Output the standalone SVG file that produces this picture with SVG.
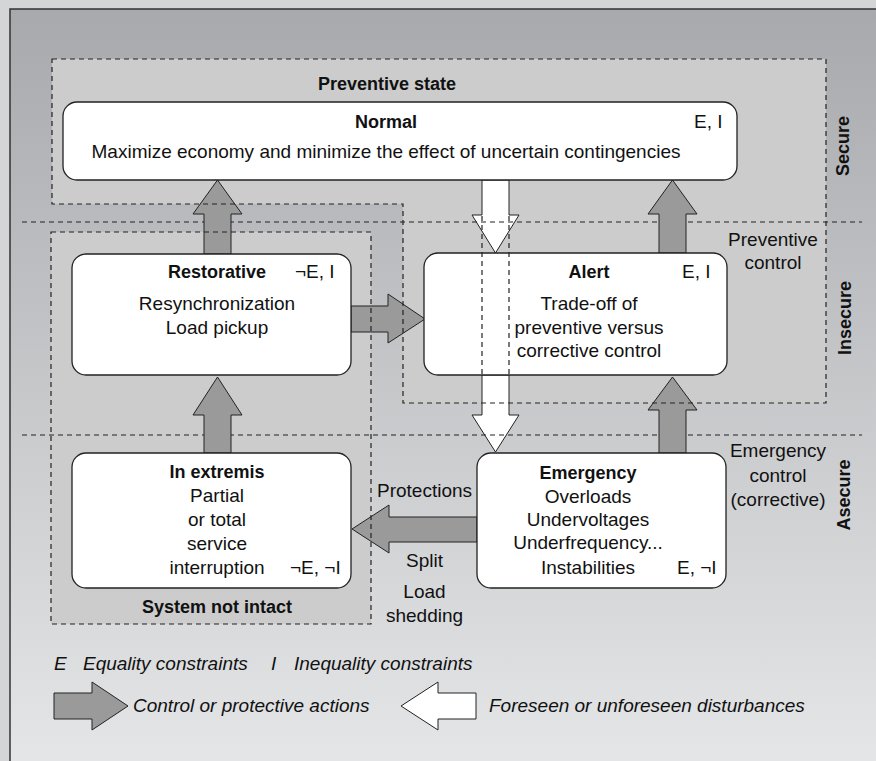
<svg xmlns="http://www.w3.org/2000/svg" width="876" height="761" viewBox="0 0 876 761">
<defs>
<linearGradient id="bg" x1="0" y1="0" x2="0" y2="1">
<stop offset="0" stop-color="#a8a9ac"/>
<stop offset="1" stop-color="#e6e7e9"/>
</linearGradient>
<style>
.t{font-family:"Liberation Sans",Arial,sans-serif;font-size:19px;fill:#111;}
.b{font-weight:bold;font-size:18px;}
.i{font-style:italic;}
.m{text-anchor:middle;}
.box{fill:#fff;stroke:#222;stroke-width:1.3;}
.dash{fill:none;stroke:#222;stroke-width:1.2;stroke-dasharray:5 4;}
.ga{fill:#9a9a9a;stroke:#222;stroke-width:1;}
.wa{fill:#fff;stroke:#222;stroke-width:1;}
.reg{fill:#cccccc;}
</style>
</defs>
<rect x="0" y="0" width="876" height="761" fill="#d4d5d7"/>
<rect x="10" y="9" width="880" height="770" fill="url(#bg)" stroke="#333" stroke-width="1.5"/>

<g id="regions">
<polygon class="reg" points="52,59 826,59 826,403 403,403 403,204 52,204"/>
<rect class="reg" x="51" y="232" width="320" height="392"/>
</g>

<g id="connectors">
<polygon class="wa" points="482,180 509,180 509,215 519,215 495.5,253 472,215 482,215"/>
<polygon class="wa" points="482,375 509,375 509,415 519,415 495.5,452 472,415 482,415"/>
<g id="zone-lines">
<line class="dash" x1="22" y1="222" x2="862" y2="222"/>
<line class="dash" x1="22" y1="435" x2="862" y2="435"/>
</g>
<polygon class="ga" points="204,254 204,214 193,214 217.5,180 242,214 231,214 231,254"/>
<polygon class="ga" points="204,453 204,415 193,415 217.5,377 242,415 231,415 231,453"/>
<polygon class="ga" points="351,306 388,306 388,294 425,319 388,343 388,332 351,332"/>
<polygon class="ga" points="659,253 659,214 648,214 672.5,180 697,214 686,214 686,253"/>
<polygon class="ga" points="659,453 659,410 648,410 672.5,377 697,410 686,410 686,453"/>
<polygon class="ga" points="477,517 389,517 389,505 352,529 389,553 389,542 477,542"/>
</g>

<g id="node-normal">
<rect class="box" x="63" y="102" width="674" height="78" rx="14"/>
<text class="t b m" x="386" y="128">Normal</text>
<text class="t" x="694" y="128">E, I</text>
<text class="t m" x="386" y="158">Maximize economy and minimize the effect of uncertain contingencies</text>
</g>

<g id="node-restorative">
<rect class="box" x="72" y="254" width="279" height="121" rx="14"/>
<text class="t b m" x="217" y="278">Restorative</text>
<text class="t" x="295" y="278">¬E, I</text>
<text class="t m" x="217" y="310">Resynchronization</text>
<text class="t m" x="217" y="334">Load pickup</text>
</g>

<g id="node-alert">
<rect class="box" x="424" y="253" width="303" height="122" rx="14"/>
<text class="t b m" x="589" y="278">Alert</text>
<text class="t" x="682" y="278">E, I</text>
<text class="t m" x="589" y="310">Trade-off of</text>
<text class="t m" x="589" y="334">preventive versus</text>
<text class="t m" x="589" y="357">corrective control</text>
</g>

<g id="node-inextremis">
<rect class="box" x="72" y="453" width="279" height="135" rx="14"/>
<text class="t b m" x="217" y="478">In extremis</text>
<text class="t m" x="217" y="502">Partial</text>
<text class="t m" x="217" y="526">or total</text>
<text class="t m" x="217" y="550">service</text>
<text class="t m" x="217" y="574">interruption</text>
<text class="t" x="290" y="574">¬E, ¬I</text>
</g>

<g id="node-emergency">
<rect class="box" x="477" y="453" width="249" height="135" rx="14"/>
<text class="t b m" x="588" y="479">Emergency</text>
<text class="t m" x="588" y="503">Overloads</text>
<text class="t m" x="588" y="526">Undervoltages</text>
<text class="t m" x="588" y="549">Underfrequency...</text>
<text class="t m" x="588" y="574">Instabilities</text>
<text class="t" x="677" y="574">E, ¬I</text>
</g>

<g id="region-borders">
<polygon class="dash" points="52,59 826,59 826,403 403,403 403,204 52,204"/>
<rect class="dash" x="51" y="232" width="320" height="392"/>
<line class="dash" x1="482" y1="216" x2="482" y2="375"/>
<line class="dash" x1="509" y1="216" x2="509" y2="375"/>
</g>

<g id="labels">
<text class="t b m" x="387" y="90">Preventive state</text>
<text class="t b m" x="217" y="613">System not intact</text>
<text class="t m" x="773" y="246">Preventive</text>
<text class="t m" x="773" y="269">control</text>
<text class="t m" x="778" y="457">Emergency</text>
<text class="t m" x="778" y="482">control</text>
<text class="t m" x="778" y="506">(corrective)</text>
<text class="t m" x="424.5" y="497">Protections</text>
<text class="t m" x="424.5" y="567">Split</text>
<text class="t m" x="424.5" y="598">Load</text>
<text class="t m" x="424.5" y="622">shedding</text>
<text class="t b m" transform="translate(849,146) rotate(-90)">Secure</text>
<text class="t b m" transform="translate(851,318) rotate(-90)">Insecure</text>
<text class="t b m" transform="translate(850,495) rotate(-90)">Asecure</text>
</g>

<g id="legend">
<text class="t i" x="54" y="670">E</text>
<text class="t i" x="83" y="670">Equality constraints</text>
<text class="t i" x="271" y="670">I</text>
<text class="t i" x="294" y="670">Inequality constraints</text>
<polygon class="ga" points="54,693 92,693 92,682 128,706 92,730 92,719 54,719"/>
<text class="t i" x="133" y="712">Control or protective actions</text>
<polygon class="wa" points="476,693 438,693 438,682 401,706 438,730 438,719 476,719"/>
<text class="t i" x="489" y="712">Foreseen or unforeseen disturbances</text>
</g>
</svg>
